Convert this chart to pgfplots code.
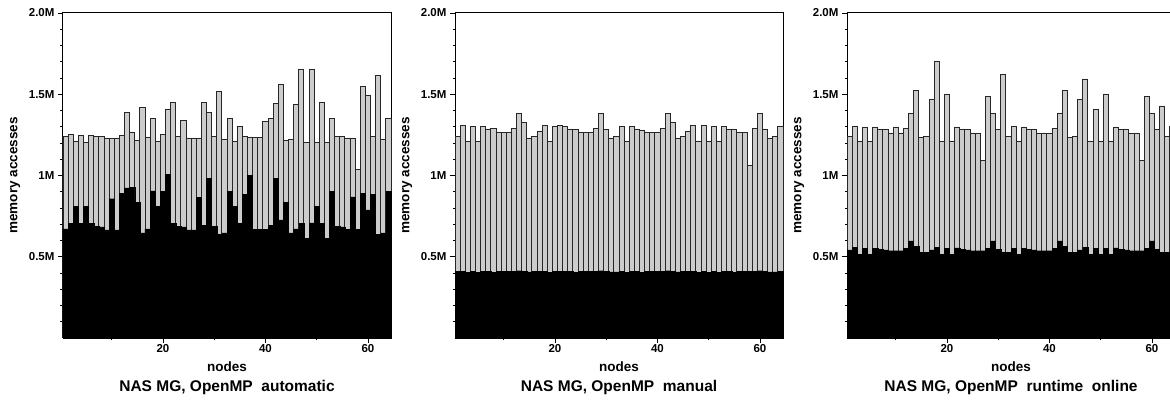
\documentclass[border=0pt]{standalone}
\usepackage{fontspec}
\setmainfont{Liberation Sans}
\usepackage{pgfplots}
\pgfplotsset{compat=1.18}
\usepackage{pgfplotstable}
\definecolor{bargray}{RGB}{204,204,204}

\pgfplotstableread{
x tot blk
1 1.239 0.671
2 1.255 0.706
3 1.208 0.812
4 1.249 0.704
5 1.206 0.808
6 1.249 0.704
7 1.243 0.686
8 1.239 0.684
9 1.231 0.665
10 1.231 0.857
11 1.231 0.665
12 1.249 0.892
13 1.390 0.924
14 1.263 0.927
15 1.218 0.833
16 1.420 0.647
17 1.237 0.671
18 1.353 0.906
19 1.208 0.812
20 1.251 0.904
21 1.404 1.008
22 1.449 0.704
23 1.241 0.686
24 1.339 0.684
25 1.231 0.665
26 1.231 0.665
27 1.231 0.867
28 1.447 0.694
29 1.390 0.984
30 1.241 0.688
31 1.518 0.637
32 1.220 0.647
33 1.349 0.904
34 1.208 0.812
35 1.300 0.704
36 1.241 0.886
37 1.237 1.000
38 1.233 0.667
39 1.233 0.667
40 1.331 0.667
41 1.349 0.694
42 1.441 0.984
43 1.561 0.727
44 1.218 0.833
45 1.220 0.647
46 1.437 0.671
47 1.651 0.706
48 1.206 0.612
49 1.651 0.708
50 1.206 0.812
51 1.449 0.704
52 1.206 0.612
53 1.349 0.904
54 1.241 0.686
55 1.239 0.684
56 1.231 0.667
57 1.231 0.869
58 1.035 0.667
59 1.549 0.892
60 1.490 0.788
61 1.241 0.886
62 1.616 0.637
63 1.220 0.647
64 1.349 0.904
}\dataA

\pgfplotstableread{
x tot blk
1 1.239 0.410
2 1.308 0.411
3 1.210 0.406
4 1.302 0.410
5 1.208 0.406
6 1.302 0.410
7 1.284 0.409
8 1.290 0.406
9 1.265 0.408
10 1.265 0.408
11 1.265 0.408
12 1.290 0.410
13 1.384 0.414
14 1.324 0.411
15 1.231 0.407
16 1.243 0.408
17 1.269 0.409
18 1.308 0.411
19 1.208 0.406
20 1.302 0.410
21 1.308 0.410
22 1.302 0.410
23 1.284 0.409
24 1.282 0.406
25 1.265 0.408
26 1.265 0.408
27 1.265 0.408
28 1.290 0.410
29 1.384 0.414
30 1.284 0.409
31 1.231 0.407
32 1.243 0.407
33 1.302 0.410
34 1.208 0.406
35 1.302 0.410
36 1.284 0.409
37 1.280 0.406
38 1.265 0.408
39 1.265 0.408
40 1.265 0.408
41 1.290 0.410
42 1.384 0.414
43 1.324 0.411
44 1.231 0.407
45 1.243 0.408
46 1.269 0.409
47 1.308 0.411
48 1.208 0.406
49 1.308 0.410
50 1.208 0.406
51 1.302 0.410
52 1.208 0.406
53 1.302 0.410
54 1.284 0.409
55 1.282 0.406
56 1.265 0.408
57 1.265 0.408
58 1.063 0.408
59 1.290 0.410
60 1.384 0.414
61 1.284 0.409
62 1.231 0.407
63 1.243 0.407
64 1.302 0.410
}\dataB

\pgfplotstableread{
x tot blk
1 1.238 0.542
2 1.305 0.557
3 1.207 0.513
4 1.299 0.553
5 1.207 0.513
6 1.299 0.553
7 1.283 0.545
8 1.281 0.543
9 1.262 0.537
10 1.293 0.537
11 1.262 0.537
12 1.289 0.553
13 1.381 0.597
14 1.523 0.566
15 1.232 0.525
16 1.242 0.529
17 1.467 0.543
18 1.705 0.557
19 1.207 0.513
20 1.502 0.553
21 1.207 0.513
22 1.299 0.555
23 1.283 0.545
24 1.281 0.543
25 1.262 0.537
26 1.262 0.537
27 1.092 0.537
28 1.488 0.553
29 1.381 0.597
30 1.283 0.547
31 1.621 0.525
32 1.242 0.525
33 1.303 0.553
34 1.207 0.513
35 1.299 0.553
36 1.283 0.545
37 1.281 0.543
38 1.262 0.537
39 1.262 0.537
40 1.262 0.537
41 1.289 0.553
42 1.381 0.597
43 1.523 0.566
44 1.232 0.525
45 1.242 0.529
46 1.467 0.543
47 1.594 0.557
48 1.207 0.513
49 1.406 0.553
50 1.207 0.513
51 1.502 0.553
52 1.207 0.513
53 1.299 0.555
54 1.283 0.545
55 1.281 0.543
56 1.262 0.537
57 1.262 0.537
58 1.092 0.537
59 1.488 0.553
60 1.381 0.597
61 1.283 0.547
62 1.428 0.525
63 1.242 0.525
64 1.300 0.530
}\dataC

\pgfplotsset{
  panel/.style={
    scale only axis, width=328pt, height=325pt,
    xmin=0.5, xmax=64.5, ymin=0, ymax=2,
    xtick={20,40,60}, xticklabels={20,40,60}, minor xtick={10,30,50},
    ytick={0.5,1,1.5,2}, yticklabels={0.5M,1M,1.5M,2.0M},
    minor ytick={0.1,0.2,0.3,0.4,0.6,0.7,0.8,0.9,1.1,1.2,1.3,1.4,1.6,1.7,1.8,1.9},
    tick align=outside, tick pos=left,
    major tick length=5pt, minor tick length=2.5pt,
    every tick/.style={black, line width=0.8pt},
    /pgf/number format/assume math mode=true,
    ticklabel style={font=\bfseries\fontsize{11.5}{12}\selectfont},
    xticklabel style={inner sep=1.5pt},
    axis line style={line width=1pt},
    every axis y label/.style={at={(axis description cs:-0.146,0.5)}, rotate=90, anchor=center,
      font=\bfseries\fontsize{13.5}{14}\selectfont},
    every axis x label/.style={at={(axis description cs:0.5,-0.089)}, anchor=center,
      font=\bfseries\fontsize{13.5}{14}\selectfont},
    every axis title/.style={at={(axis description cs:0.5,-0.152)}, anchor=center,
      font=\bfseries\fontsize{15.5}{16}\selectfont},
    ylabel={memory accesses}, xlabel={nodes},
    ybar, bar width=1, bar shift=0pt,
    clip=false,
  },
  totbar/.style={fill=bargray, draw=black!85, line width=0.8pt},
  blkbar/.style={fill=black, draw=black, line width=0.4pt},
}

\begin{document}
\begin{tikzpicture}
\begin{axis}[panel, at={(63pt,66pt)}, anchor=south west, title={NAS MG, OpenMP\ \ automatic}]
  \addplot[totbar] table[x=x, y=tot] {\dataA};
  \addplot[blkbar] table[x=x, y=blk] {\dataA};
\end{axis}
\begin{axis}[panel, at={(455pt,66pt)}, anchor=south west, title={NAS MG, OpenMP\ \ manual}]
  \addplot[totbar] table[x=x, y=tot] {\dataB};
  \addplot[blkbar] table[x=x, y=blk] {\dataB};
\end{axis}
\begin{axis}[panel, at={(847pt,66pt)}, anchor=south west, title={NAS MG, OpenMP\ \ runtime\ \ online}]
  \addplot[totbar] table[x=x, y=tot] {\dataC};
  \addplot[blkbar] table[x=x, y=blk] {\dataC};
\end{axis}
\pgfresetboundingbox
\path[use as bounding box] (0,0) rectangle (1170pt,404pt);
\end{tikzpicture}
\end{document}
